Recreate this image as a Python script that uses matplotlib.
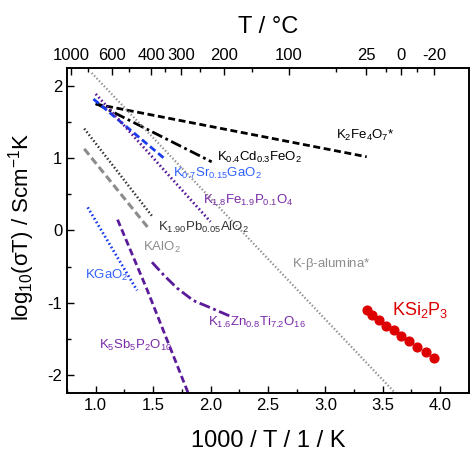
import matplotlib.pyplot as plt
import numpy as np

plt.rcParams['font.family'] = ['Liberation Sans', 'DejaVu Sans']
plt.rcParams['mathtext.fontset'] = 'custom'
plt.rcParams['mathtext.rm'] = 'Liberation Sans'
plt.rcParams['mathtext.it'] = 'Liberation Sans'

# literature data, 1000/T (1/K) vs log10(sigma*T)
k2fe4o7_x = [1.0, 3.36]
k2fe4o7_y = [1.75, 1.02]
kcdfeo2_x = [1.0, 2.01]
kcdfeo2_y = [1.76, 0.95]
ksrgao2_x = [0.98, 1.61]
ksrgao2_y = [1.82, 0.98]
kfepo4_x = [1.0, 2.0]
kfepo4_y = [1.89, 0.12]
kpbalo2_x = [0.90, 1.50]
kpbalo2_y = [1.41, 0.18]
kalo2_x = [0.90, 1.46]
kalo2_y = [1.13, 0.03]
kgao2_x = [0.93, 1.36]
kgao2_y = [0.32, -0.83]
ksbpo_x = [1.19, 1.23, 1.45, 1.69, 1.83]
ksbpo_y = [0.15, 0.0, -0.83, -1.79, -2.35]
kzntio_x = [1.49, 1.60, 1.71, 1.85, 2.00, 2.19]
kzntio_y = [-0.44, -0.63, -0.80, -0.97, -1.07, -1.20]
kbeta_x = [0.965, 3.62]
kbeta_y = [2.18, -2.27]

# this work
ksi2p3_x = [3.36, 3.41, 3.47, 3.53, 3.60, 3.66, 3.73, 3.80, 3.88, 3.95]
ksi2p3_y = [-1.10, -1.17, -1.24, -1.32, -1.38, -1.46, -1.53, -1.61, -1.68, -1.77]

top_ticks_c = [1000, 600, 400, 300, 200, 100, 25, 0, -20]
top_minor_c = [800, 500, 350, 250, 150, 50, 10, -10]

purple = '#5a1a9a'
purple_txt = '#7a2aa8'
blue = '#1a3cf0'
blue_txt = '#3060ff'
gray = '#8c8c8c'

fig = plt.figure(figsize=(4.7, 4.5), dpi=100)
ax = fig.add_axes([0.1426, 0.1267, 0.855, 0.7223])

ax.plot(k2fe4o7_x, k2fe4o7_y, color='black', lw=2, dashes=(2.5, 1.3))
ax.plot(kcdfeo2_x, kcdfeo2_y, color='black', lw=2, dashes=(4, 1.3, 1, 1.3))
ax.plot(ksrgao2_x, ksrgao2_y, color=blue, lw=2, dashes=(2.5, 1.3))
ax.plot(kfepo4_x, kfepo4_y, color=purple, lw=2, dashes=(0.6, 0.9))
ax.plot(kpbalo2_x, kpbalo2_y, color='#333333', lw=1.8, dashes=(0.6, 0.9))
ax.plot(kalo2_x, kalo2_y, color=gray, lw=2.2, dashes=(2.5, 1.3))
ax.plot(kgao2_x, kgao2_y, color=blue, lw=2, dashes=(0.6, 0.9))
ax.plot(ksbpo_x, ksbpo_y, color=purple, lw=2, dashes=(2.5, 1.3))
ax.plot(kzntio_x, kzntio_y, color=purple, lw=2, dashes=(4, 1.3, 1, 1.3))
ax.plot(kbeta_x, kbeta_y, color=gray, lw=1.6, dashes=(0.6, 1.0))
ax.plot(ksi2p3_x, ksi2p3_y, 'o', color='#dd0000', ms=6.3, ls='none')

fs = 9.5
ax.text(3.095, 1.32, r'K$_2$Fe$_4$O$_7$*', color='black', fontsize=fs, va='center')
ax.text(2.056, 1.01, r'K$_{0.4}$Cd$_{0.3}$FeO$_2$', color='black', fontsize=fs, va='center')
ax.text(1.67, 0.79, r'K$_{0.7}$Sr$_{0.15}$GaO$_2$', color=blue_txt, fontsize=fs, va='center')
ax.text(1.93, 0.41, r'K$_{1.8}$Fe$_{1.9}$P$_{0.1}$O$_4$', color=purple_txt, fontsize=fs, va='center')
ax.text(1.54, 0.04, r'K$_{1.90}$Pb$_{0.05}$AlO$_2$', color='#333333', fontsize=fs, va='center')
ax.text(1.41, -0.23, r'KAlO$_2$', color=gray, fontsize=fs, va='center')
ax.text(0.91, -0.62, r'KGaO$_2$', color=blue_txt, fontsize=fs, va='center')
ax.text(1.98, -1.28, r'K$_{1.6}$Zn$_{0.8}$Ti$_{7.2}$O$_{16}$', color=purple_txt, fontsize=fs, va='center')
ax.text(1.03, -1.59, r'K$_5$Sb$_5$P$_2$O$_{10}$', color=purple_txt, fontsize=fs, va='center')
ax.text(2.71, -0.47, r'K-$\beta$-alumina*', color=gray, fontsize=fs, va='center')
ax.text(3.58, -1.10, r'KSi$_2$P$_3$', color='#dd0000', fontsize=13, va='center')

ax.set_xlim(0.75, 4.25)
ax.set_ylim(-2.25, 2.25)
ax.set_xticks([1.0, 1.5, 2.0, 2.5, 3.0, 3.5, 4.0])
ax.set_xticks(np.arange(0.75, 4.26, 0.25), minor=True)
ax.set_yticks([-2, -1, 0, 1, 2])
ax.set_yticklabels(['-2', '-1', '0', '1', '2'])
ax.set_yticks(np.arange(-2.0, 2.26, 0.5), minor=True)
ax.tick_params(which='both', direction='in', labelsize=12)
ax.tick_params(which='major', length=5, width=1)
ax.tick_params(which='minor', length=3, width=1)
ax.tick_params(axis='y', right=False)
ax.set_xlabel('1000 / T / 1 / K', fontsize=17, labelpad=12)
ax.set_ylabel(r'log$_{10}$($\sigma$T) / Scm$^{-1}$K', fontsize=16)
ax.yaxis.set_label_coords(-0.075, 0.51)

top = ax.twiny()
top.set_xlim(ax.get_xlim())
top.set_xticks([1000 / (t + 273.15) for t in top_ticks_c])
top.set_xticklabels([str(t) for t in top_ticks_c])
top.set_xticks([1000 / (t + 273.15) for t in top_minor_c], minor=True)
top.tick_params(which='both', direction='in', labelsize=12)
top.tick_params(which='major', length=5, width=1)
top.tick_params(which='minor', length=3, width=1)
top.set_xlabel('T / °C', fontsize=17, labelpad=11)

for a in (ax, top):
    for s in a.spines.values():
        s.set_linewidth(1.2)

fig.savefig('out.png', dpi=100)
